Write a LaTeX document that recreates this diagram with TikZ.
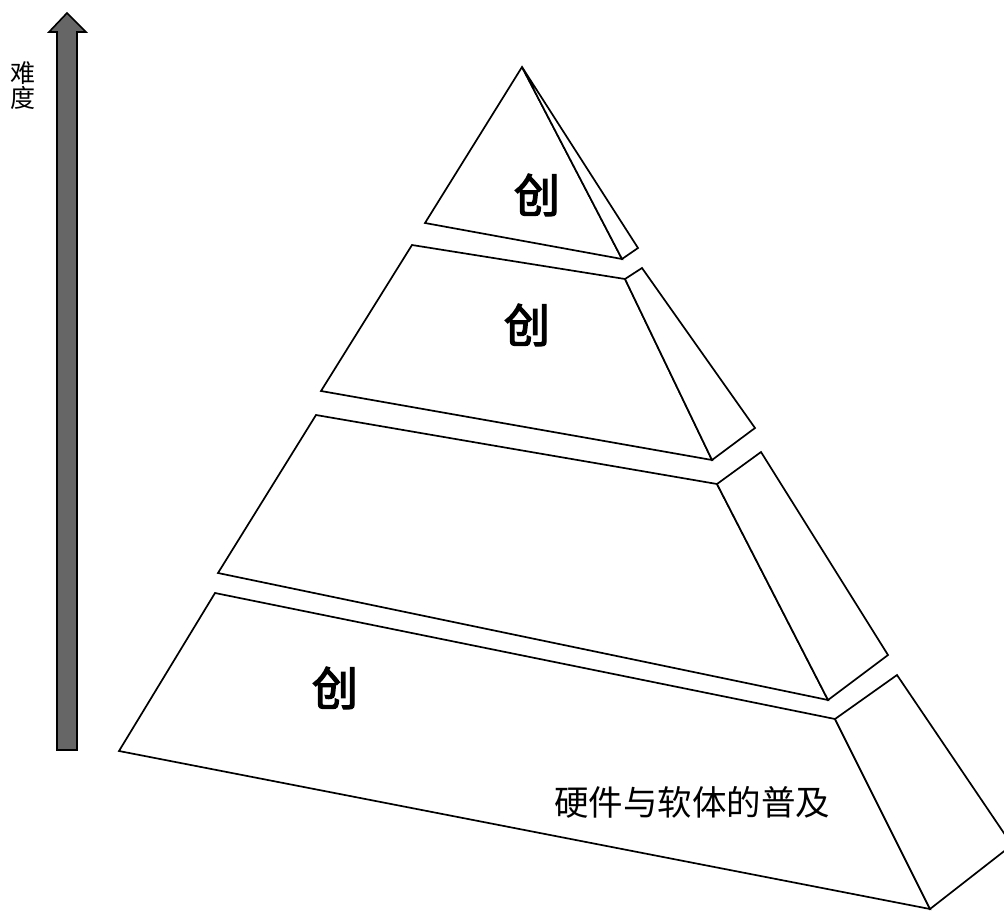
\documentclass[tikz,border=0pt]{standalone}
\usepackage{fontspec}
\newfontfamily\cjk{Noto Sans CJK SC}
\newfontfamily\cjkb[FakeBold=3]{Noto Sans CJK SC}
\tikzset{
  face/.style={draw=black, line width=1.7pt, line join=miter, fill=white},
  big/.style={font=\cjkb\fontsize{46pt}{46pt}\selectfont, inner sep=0pt},
  arrowbody/.style={draw=black, line width=1.6pt, fill=black!60},
}
\begin{document}
\begin{tikzpicture}[x=1pt,y=-1pt]
\useasboundingbox (0,0) rectangle (1004,911);
\clip (0,0) rectangle (1004,911);
% difficulty arrow
\draw[arrowbody] (57,750) -- (57,32) -- (49,32) -- (67,13) -- (86,32) -- (77,32) -- (77,750) -- cycle;
\node[font=\cjk\fontsize{25pt}{25pt}\selectfont, align=center, inner sep=0pt] (nandu) at (23,86) {难\\度};
% tier 1
\draw[face] (522,67) -- (425,223) -- (622,259) -- cycle;
\draw[face] (522,67) -- (638,248) -- (622,259) -- cycle;
% tier 2
\draw[face] (412,245) -- (625,279) -- (712,460) -- (321,391) -- cycle;
\draw[face] (625,279) -- (642,268) -- (755,428) -- (712,460) -- cycle;
% tier 3
\draw[face] (316,415) -- (717,484) -- (828,700) -- (218,573) -- cycle;
\draw[face] (717,484) -- (761,452) -- (888,655) -- (828,700) -- cycle;
% tier 4
\draw[face] (215,593) -- (835,719) -- (930,909) -- (119,751) -- cycle;
\draw[face] (835,719) -- (897,675) -- (1012,845) -- (930,909) -- cycle;
% labels
\node[big] (c1) at (537,195) {创};
\node[big] (c2) at (527,325) {创};
\node[big] (c3) at (335,688) {创};
\node[font=\cjk\fontsize{34.5pt}{34.5pt}\selectfont, inner sep=0pt] (base) at (692,802) {硬件与软体的普及};
\end{tikzpicture}
\end{document}
